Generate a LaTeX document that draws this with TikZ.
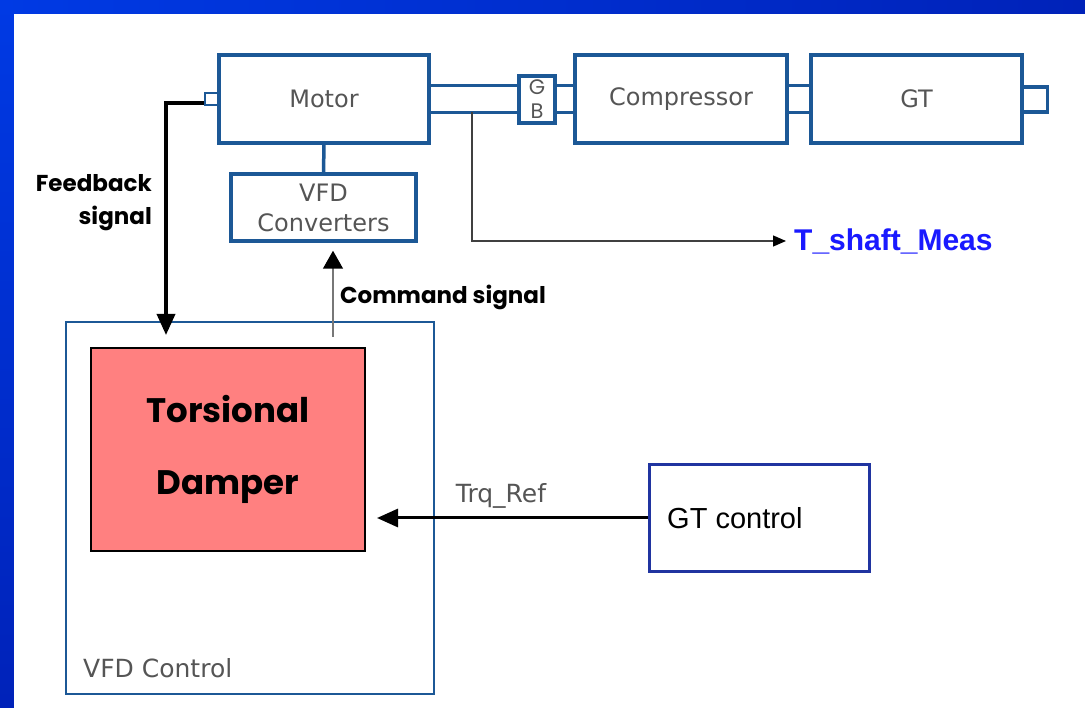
\documentclass[tikz,border=0pt]{standalone}
\usepackage{fontspec}
\setmainfont{DejaVu Sans}
\newfontfamily\gothic{Poppins}
\newfontfamily\arial{Liberation Sans}
\usepackage{tikz}
\usetikzlibrary{arrows.meta}
\definecolor{shaftblue}{RGB}{28,88,150}
\definecolor{ctrlblue}{RGB}{32,52,160}
\definecolor{salmon}{RGB}{255,128,128}
\definecolor{labelgray}{RGB}{85,85,85}
\definecolor{measblue}{RGB}{25,25,255}
\definecolor{slideblue}{RGB}{0,58,228}
\definecolor{slidedark}{RGB}{0,34,185}
\tikzset{%
    unit/.style={draw=shaftblue, line width=3.5pt, fill=white, text=labelgray,
        font=\fontsize{24}{30}\selectfont, align=center, inner sep=0pt},
    shaft/.style={draw=shaftblue, line width=3.5pt},
    sig/.style={line width=3.5pt, -{Triangle[length=21pt,width=18pt]}},
    boldlabel/.style={font=\gothic\bfseries\fontsize{23}{33}\selectfont, inner sep=0pt}
}

\begin{document}
\begin{tikzpicture}[x=1pt,y=-1pt]
    \useasboundingbox (0,0) rectangle (1085,708);
    % slide frame
    \fill[top color=slideblue, bottom color=slidedark] (0,0) rectangle (14,708);
    \fill[left color=slideblue, right color=slidedark] (0,0) rectangle (1085,14);
    \fill[white] (14,14) rectangle (1085,708);

    % drive train
    \node[unit, line width=2.5pt, minimum width=13pt, minimum height=12pt] (mport) at (211.5,99) {};
    \node[unit, minimum width=210pt, minimum height=88pt] (motor) at (324,99) {Motor};
    \node[unit, minimum width=36pt, minimum height=47pt, font=\gothic\fontsize{21}{24}\selectfont] (gb) at (537,99.5) {G\\B};
    \node[unit, minimum width=212pt, minimum height=88pt] (comp) at (681,99) {Compressor};
    \node[unit, minimum width=25pt, minimum height=25pt] (gtport) at (1035,99.5) {};
    \node[unit, minimum width=211pt, minimum height=88pt] (gt) at (916.5,99) {GT};
    \node[unit, minimum width=185pt, minimum height=67pt] (vfdc) at (323.5,207.5) {VFD\\Converters};

    \coordinate (shu) at ([yshift=13.5pt]motor.east);
    \coordinate (shl) at ([yshift=-13.5pt]motor.east);
    \draw[shaft] (shu) -- (shu -| gb.west) (shl) -- (shl -| gb.west);
    \draw[shaft] (shu -| gb.east) -- (shu -| comp.west) (shl -| gb.east) -- (shl -| comp.west);
    \draw[shaft] (shu -| comp.east) -- (shu -| gt.west) (shl -| comp.east) -- (shl -| gt.west);
    \draw[shaft] (motor.south) -- (vfdc.north);

    % control side
    \node[draw=shaftblue, line width=2.5pt, minimum width=368pt, minimum height=372pt] (vfdctl) at (250,508) {};
    \node[draw=black, line width=2pt, fill=salmon, minimum width=274pt, minimum height=203pt,
        font=\gothic\bfseries\fontsize{34}{72}\selectfont, align=center] (damper) at (228,449.5) {Torsional\\Damper};
    \node[text=labelgray, anchor=west, inner sep=0pt, font=\fontsize{25}{30}\selectfont] (vfdlbl) at (83,668) {VFD Control};
    \node[draw=ctrlblue, line width=3pt, minimum width=220pt, minimum height=107pt] (gtctl) at (759,518) {};
    \node[anchor=west, inner sep=0pt, font=\arial\fontsize{29}{32}\selectfont] (gtlbl) at (667,518) {GT control};

    % signals
    \coordinate (fbout) at ([yshift=-4pt]mport.west);
    \coordinate (fbtip) at (166,335);
    \draw[sig] (fbout) -| (fbtip);
    \node[boldlabel, anchor=east, align=right] (fblabel) at (152,203) {Feedback\\signal};

    \coordinate (cmdfoot) at (333,337);
    \draw[line width=1.5pt, labelgray!80, -{Triangle[length=18pt,width=20pt,color=black]}, shorten >=8pt]
        (cmdfoot) -- (cmdfoot |- vfdc.south);
    \node[boldlabel, anchor=west] (cmdlabel) at (340,297) {Command signal};

    \draw[sig, line width=3pt, shorten >=11pt] (gtctl.west) -- (gtctl.west -| damper.east);
    \node[text=labelgray, inner sep=0pt, font=\fontsize{25}{30}\selectfont] (trq) at (501,496) {Trq\_Ref};

    \coordinate (tap) at (472,112.5);
    \node[anchor=west, inner sep=0pt, text=measblue, font=\arial\bfseries\fontsize{30}{32}\selectfont] (tmeas) at (794,241) {T\_shaft\_Meas};
    \draw[line width=1.3pt, black!75, -{Triangle[length=13pt,width=11pt,color=black]}, shorten >=8pt]
        (tap) |- (tmeas.west);
\end{tikzpicture}
\end{document}
